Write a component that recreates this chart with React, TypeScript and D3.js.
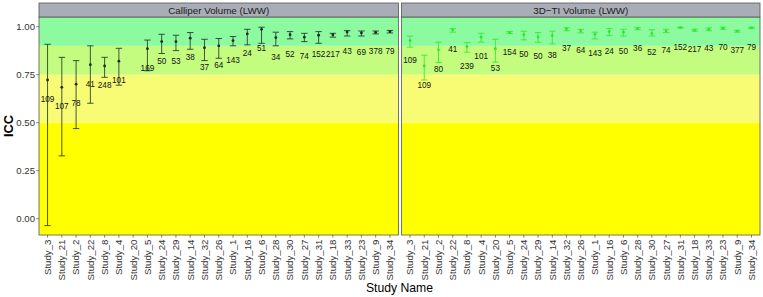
import React from "react";
import * as d3 from "d3";

const studies = ["Study_3","Study_21","Study_2","Study_22","Study_8","Study_4","Study_20","Study_5","Study_24","Study_29","Study_14","Study_32","Study_26","Study_1","Study_16","Study_6","Study_28","Study_30","Study_27","Study_31","Study_18","Study_33","Study_23","Study_9","Study_34"];

const calliperICC = [0.722,0.684,0.70,0.802,0.795,0.82,null,0.885,0.922,0.922,0.94,0.89,0.90,0.927,0.962,0.986,0.943,0.958,0.945,0.955,0.958,0.972,0.967,0.970,0.974];
const calliperLo = [-0.036,0.327,0.469,0.601,0.736,0.695,null,0.77,0.86,0.875,0.882,0.823,0.835,0.90,0.905,0.913,0.90,0.936,0.922,0.913,0.945,0.951,0.951,0.962,0.967];
const calliperHi = [0.908,0.84,0.823,0.90,0.84,0.887,null,0.93,0.96,0.955,0.969,0.934,0.938,0.948,0.986,0.997,0.971,0.974,0.965,0.974,0.965,0.979,0.977,0.977,0.98];
const calliperN = ["109","107","78","41","248","101","","169","50","53","38","37","64","143","24","51","34","52","74","152","217","43","69","378","79"];

const tiICC = [0.927,0.795,0.879,0.983,0.896,0.945,0.885,0.969,0.958,0.946,0.953,0.987,0.978,0.96,0.974,0.971,0.99,0.965,0.978,0.995,0.981,0.986,0.991,0.976,0.993];
const tiLo = [0.893,0.722,0.813,0.971,0.867,0.919,0.815,0.964,0.931,0.919,0.91,0.978,0.967,0.936,0.953,0.951,0.984,0.951,0.969,0.992,0.976,0.979,0.986,0.971,0.99];
const tiHi = [0.951,0.851,0.919,0.99,0.917,0.965,0.934,0.975,0.976,0.969,0.976,0.994,0.986,0.971,0.99,0.986,0.995,0.983,0.986,0.997,0.986,0.993,0.997,0.981,0.997];
const tiN = ["109","109","80","41","239","101","53","154","50","50","38","37","64","143","24","50","36","52","74","152","217","43","70","377","79"];

const yTicks = [0, 0.25, 0.5, 0.75, 1.0];
const bandBreaks = [0.5, 0.75, 0.9];
const bandColors = ["#ffff00", "#f8fc74", "#c3fc7e", "#8cfa9f"];

const panelTitles = ["Calliper Volume (LWW)", "3D\u2212TI Volume (LWW)"];
const panelColors = ["#1c2b28", "#2ee62e"];

const FONT = "'Liberation Sans', Arial, Helvetica, sans-serif";

export default function App() {
  const W = 763, H = 297;
  const top = 17, bottom = 235, stripTop = 3;
  const panels = [
    { x0: 39, x1: 398.5, icc: calliperICC, lo: calliperLo, hi: calliperHi, n: calliperN },
    { x0: 401.5, x1: 760, icc: tiICC, lo: tiLo, hi: tiHi, n: tiN },
  ];
  const y = d3.scaleLinear().domain([-0.085, 1.05]).range([bottom, top]);
  const [dMin, dMax] = y.domain();
  const bandEdges = [dMin, ...bandBreaks, dMax];

  return (
    <svg width={W} height={H} style={{ position: "absolute", left: 0, top: 0 }} fontFamily={FONT}>
      <rect x={0} y={0} width={W} height={H} fill="#ffffff" />
      {panels.map((p, pi) => {
        const x = d3.scalePoint<string>().domain(studies).range([p.x0, p.x1]).padding(0.6);
        const capW = x.step() * 0.45;
        return (
          <g key={pi}>
            {bandColors.map((c, bi) => (
              <rect key={bi} x={p.x0} width={p.x1 - p.x0}
                y={y(bandEdges[bi + 1])} height={y(bandEdges[bi]) - y(bandEdges[bi + 1])}
                fill={c} />
            ))}
            {studies.map((s, i) => {
              const v = p.icc[i];
              if (v === null) return null;
              const cx = x(s)!;
              const lo = p.lo[i] as number, hi = p.hi[i] as number;
              const col = panelColors[pi];
              return (
                <g key={s}>
                  <line x1={cx} x2={cx} y1={y(lo)} y2={y(hi)} stroke={col} strokeWidth={0.8} />
                  <line x1={cx - capW / 2} x2={cx + capW / 2} y1={y(lo)} y2={y(lo)} stroke={col} strokeWidth={0.8} />
                  <line x1={cx - capW / 2} x2={cx + capW / 2} y1={y(hi)} y2={y(hi)} stroke={col} strokeWidth={0.8} />
                  <circle cx={cx} cy={y(v)} r={1.4} fill={col} />
                  <text x={cx} y={y(v - 0.1)} dy="0.35em" textAnchor="middle" fontSize={8.2} fill="#111">{p.n[i]}</text>
                </g>
              );
            })}
            <rect x={p.x0} y={top} width={p.x1 - p.x0} height={bottom - top} fill="none" stroke="#555" strokeWidth={0.8} />
            <rect x={p.x0} y={stripTop} width={p.x1 - p.x0} height={top - stripTop} fill="#a9adb5" stroke="#555" strokeWidth={0.8} />
            <text x={(p.x0 + p.x1) / 2} y={(stripTop + top) / 2} dy="0.36em" textAnchor="middle" fontSize={9.8} fill="#1a1a1a">{panelTitles[pi]}</text>
            {studies.map((s) => (
              <g key={"t" + s} transform={`translate(${x(s)},${bottom})`}>
                <line y1={0} y2={2.7} stroke="#333" strokeWidth={0.6} />
                <text transform="translate(0,4.5) rotate(-90)" textAnchor="end" dy="0.35em" fontSize={9.7} fill="#333">{s}</text>
              </g>
            ))}
          </g>
        );
      })}
      {yTicks.map((t) => (
        <g key={t} transform={`translate(39,${y(t)})`}>
          <line x1={-2.7} x2={0} stroke="#333" strokeWidth={0.6} />
          <text x={-4} dy="0.35em" textAnchor="end" fontSize={9.6} fill="#333">{t.toFixed(2)}</text>
        </g>
      ))}
      <text transform={`translate(12.5,${(top + bottom) / 2}) rotate(-90)`} textAnchor="middle" fontSize={12.8} fontWeight="bold" fill="#000">ICC</text>
      <text x={(39 + 760) / 2} y={292} textAnchor="middle" fontSize={12.2} fill="#000">Study Name</text>
    </svg>
  );
}
